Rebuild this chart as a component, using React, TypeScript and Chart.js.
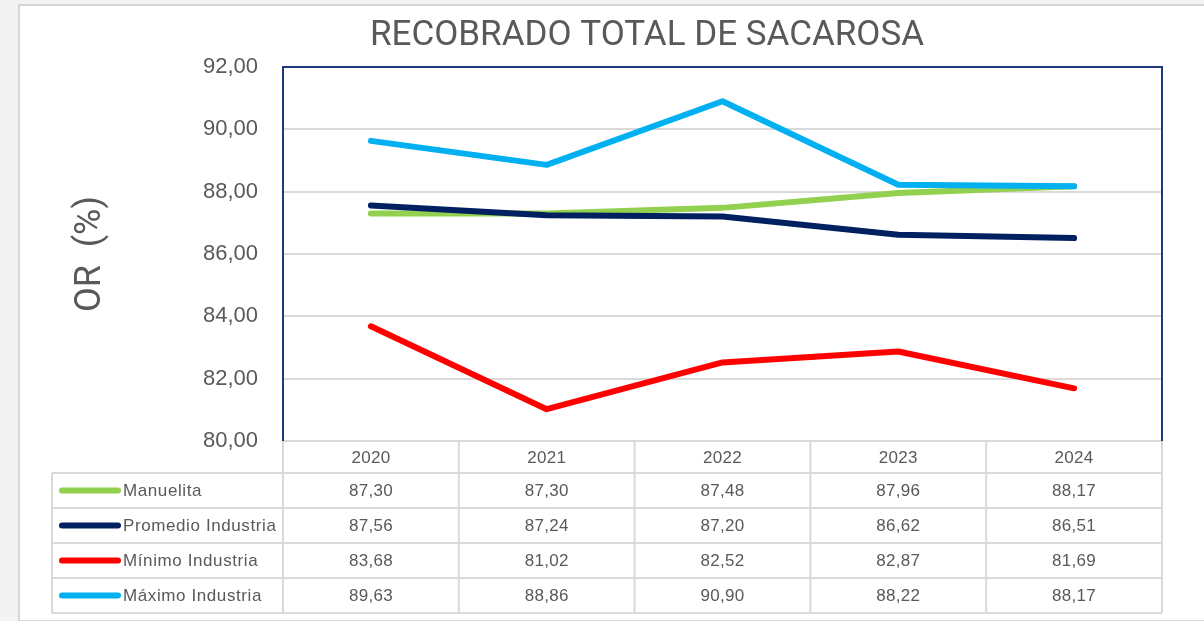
import React, { useEffect, useRef } from "react";
import { Chart, registerables } from "chart.js";

Chart.register(...registerables);

const categories = ["2020", "2021", "2022", "2023", "2024"];
const seriesNames = ["Manuelita", "Promedio Industria", "Mínimo Industria", "Máximo Industria"];
const manuelita = [87.3, 87.3, 87.48, 87.96, 88.17];
const promedio = [87.56, 87.24, 87.2, 86.62, 86.51];
const minimo = [83.68, 81.02, 82.52, 82.87, 81.69];
const maximo = [89.63, 88.86, 90.9, 88.22, 88.17];
const seriesColors = ["#92d050", "#002060", "#ff0000", "#00b0f0"];
const yMin = 80;
const yMax = 92;
const yStep = 2;

const fmt = (v: number) => v.toFixed(2).replace(".", ",");

const TEXT = "#595959";
const GRID = "#d9d9d9";
const FRAME = "#1f3a7a";

const tablePlugin = {
  id: "dataTable",
  afterDraw(chart: any) {
    const { ctx, chartArea } = chart;
    const x = chart.scales.x;
    const n = categories.length;
    const colW = (chartArea.right - chartArea.left) / n;
    const top = chartArea.bottom;
    const headerH = 32;
    const rowH = 35;
    const tableLeft = 52;
    const all = [manuelita, promedio, minimo, maximo];
    ctx.save();
    ctx.strokeStyle = GRID;
    ctx.lineWidth = 2;
    ctx.beginPath();
    ctx.moveTo(chartArea.left, top);
    ctx.lineTo(chartArea.right, top);
    for (let r = 0; r <= all.length; r++) {
      const yy = top + headerH + r * rowH;
      ctx.moveTo(tableLeft, yy);
      ctx.lineTo(chartArea.right, yy);
    }
    const bottom = top + headerH + all.length * rowH;
    for (let c = 0; c <= n; c++) {
      const xx = chartArea.left + c * colW;
      ctx.moveTo(xx, top);
      ctx.lineTo(xx, bottom);
    }
    ctx.moveTo(tableLeft, top + headerH);
    ctx.lineTo(tableLeft, bottom);
    ctx.stroke();

    ctx.fillStyle = TEXT;
    ctx.font = "17px 'Liberation Sans', Arial, sans-serif";
    ctx.textAlign = "center";
    ctx.textBaseline = "middle";
    (ctx as any).letterSpacing = "0.3px";
    categories.forEach((c, i) => {
      ctx.fillText(c, x.getPixelForValue(i), top + headerH / 2 + 1);
    });
    all.forEach((vals, r) => {
      const cy = top + headerH + r * rowH + rowH / 2 + 1;
      vals.forEach((v, i) => {
        ctx.textAlign = "center";
        ctx.fillStyle = TEXT;
        ctx.fillText(fmt(v), x.getPixelForValue(i), cy);
      });
      ctx.strokeStyle = seriesColors[r];
      ctx.lineWidth = 6;
      ctx.lineCap = "round";
      ctx.beginPath();
      ctx.moveTo(62, cy - 1);
      ctx.lineTo(118, cy - 1);
      ctx.stroke();
      ctx.textAlign = "left";
      ctx.fillStyle = TEXT;
      (ctx as any).letterSpacing = "0.6px";
      ctx.fillText(seriesNames[r], 123, cy);
      (ctx as any).letterSpacing = "0.3px";
    });

    (ctx as any).letterSpacing = "0px";
    ctx.strokeStyle = FRAME;
    ctx.lineWidth = 2;
    ctx.lineCap = "butt";
    ctx.beginPath();
    ctx.moveTo(chartArea.left, chartArea.bottom);
    ctx.lineTo(chartArea.left, chartArea.top);
    ctx.lineTo(chartArea.right, chartArea.top);
    ctx.lineTo(chartArea.right, chartArea.bottom);
    ctx.stroke();
    ctx.restore();
  },
};

export default function App() {
  const ref = useRef<HTMLCanvasElement | null>(null);
  useEffect(() => {
    if (!ref.current) return;
    const data = [manuelita, promedio, minimo, maximo];
    const chart = new Chart(ref.current, {
      type: "line",
      data: {
        labels: categories,
        datasets: data.map((d, i) => ({
          label: seriesNames[i],
          data: d,
          borderColor: seriesColors[i],
          backgroundColor: seriesColors[i],
          borderWidth: 6,
          pointRadius: 0,
          tension: 0,
          borderCapStyle: "round" as const,
          borderJoinStyle: "round" as const,
          order: data.length - i,
        })),
      },
      options: {
        responsive: false,
        animation: false,
        layout: { padding: { left: 132, right: 42, top: 0, bottom: 180 } },
        plugins: {
          legend: { display: false },
          tooltip: { enabled: false },
          title: {
            display: true,
            text: "RECOBRADO TOTAL DE SACAROSA",
            color: TEXT,
            font: { family: "Roboto", size: 35, weight: "normal" as const },
            padding: { top: 15, bottom: 10 },
          },
        },
        scales: {
          x: {
            type: "category",
            display: false,
            offset: true,
          },
          y: {
            min: yMin,
            max: yMax,
            afterFit: (scale: any) => {
              scale.width = 151;
            },
            border: { display: false },
            grid: { color: GRID, lineWidth: 2, drawTicks: false },
            ticks: {
              stepSize: yStep,
              padding: 25,
              color: TEXT,
              font: { family: "'Liberation Sans', Arial, sans-serif", size: 22 },
              callback: (v: any) => fmt(Number(v)),
            },
            title: {
              display: true,
              text: "OR  (%)",
              color: TEXT,
              font: { family: "Roboto", size: 36, weight: "normal" as const },
              padding: { top: -63, bottom: 0 },
            },
          },
        },
      },
      plugins: [tablePlugin],
    });
    return () => chart.destroy();
  }, []);
  return (
    <div style={{ position: "fixed", left: 0, top: 0, width: 1204, height: 621, background: "#f3f3f3", overflow: "hidden" }}>
      <div style={{ position: "absolute", left: 18, top: 4, width: 1200, height: 614, background: "#ffffff", border: "2px solid #d6d6d6" }} />
      <canvas ref={ref} width={1204} height={621} style={{ position: "absolute", left: 0, top: 0, width: 1204, height: 621 }} />
    </div>
  );
}
